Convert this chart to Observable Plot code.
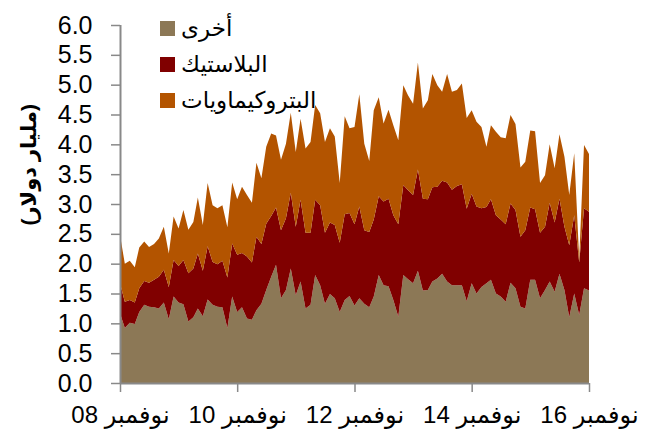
<!DOCTYPE html>
<html><head><meta charset="utf-8">
<script src="https://cdn.jsdelivr.net/npm/d3@7"></script>
<script src="https://cdn.jsdelivr.net/npm/@observablehq/plot@0.6"></script>
<style>
body{margin:0;background:#fff;font-family:"Liberation Sans",Arial,"DejaVu Sans",sans-serif;}
#wrap{position:relative;width:648px;height:430px;}
#legend{position:absolute;left:160px;top:10px;}
.row{display:flex;align-items:center;height:36px;font-size:23px;color:#000;}
.sw{width:15px;height:15px;margin-right:6px;flex:none;}
.row span{direction:rtl;}
svg g[aria-label="x-axis tick label"] text{direction:rtl;unicode-bidi:embed;}
</style></head>
<body>
<div id="wrap"><div id="chart"></div><div id="legend"></div></div>
<script>
const seriesNames = ["أخرى", "البلاستيك", "البتروكيماويات"];
const seriesColors = ["#8c7856", "#800000", "#b35400"];
const yTitle = "(مليار دولار)";
const yTicks = [0, 0.5, 1, 1.5, 2, 2.5, 3, 3.5, 4, 4.5, 5, 5.5, 6];
const xTickLabels = ["نوفمبر 08", "نوفمبر 10", "نوفمبر 12", "نوفمبر 14", "نوفمبر 16"];
const xTickDates = [Date.UTC(2008,10,1), Date.UTC(2010,10,1), Date.UTC(2012,10,1), Date.UTC(2014,10,1), Date.UTC(2016,10,1)];

// monthly values, Nov 2008 - Nov 2016 (billion USD)
const other = [1.17,0.92,1.01,0.99,1.19,1.31,1.28,1.27,1.25,1.35,1.07,1.45,1.35,1.32,1.03,1.10,1.25,1.12,1.40,1.31,1.28,1.27,0.92,1.45,
1.19,1.27,1.08,1.06,1.22,1.33,1.56,1.78,1.98,1.42,1.56,1.92,1.47,1.70,1.25,1.31,1.81,1.64,1.33,1.49,1.42,1.19,1.39,1.46,
1.30,1.42,1.33,1.27,1.45,1.81,1.64,1.62,1.39,1.11,1.81,1.74,1.67,1.88,1.55,1.56,1.70,1.75,1.83,1.70,1.64,1.64,1.64,1.37,
1.67,1.50,1.61,1.67,1.73,1.50,1.45,1.36,1.68,1.59,1.28,1.25,1.73,1.73,1.42,1.56,1.70,1.53,1.83,1.56,1.10,1.50,1.14,1.59,1.55];
const plastics = [0.50,0.44,0.38,0.36,0.40,0.40,0.40,0.46,0.53,0.55,0.54,0.61,0.61,0.74,0.81,0.82,0.92,0.76,0.89,0.72,0.71,0.78,0.85,0.89,
0.96,0.91,1.04,0.96,1.23,1.00,1.11,1.02,0.96,1.14,1.20,1.27,1.15,1.37,1.27,1.21,1.26,1.34,1.19,1.20,1.23,1.16,1.44,1.39,
1.36,1.54,1.23,1.26,1.29,1.32,1.40,1.47,1.42,1.55,1.51,1.49,1.48,1.70,1.54,1.52,1.58,1.54,1.56,1.66,1.60,1.66,1.69,1.55,
1.50,1.46,1.32,1.28,1.35,1.31,1.29,1.30,1.33,1.31,1.17,1.31,1.21,1.18,1.10,1.06,1.32,1.16,1.26,1.06,1.21,1.31,0.88,1.34,1.32];
const petro = [0.81,0.64,0.66,0.59,0.68,0.66,0.60,0.60,0.64,0.72,0.56,0.73,0.63,0.84,0.73,0.78,0.94,0.77,1.06,0.95,0.94,0.93,0.84,1.02,
0.93,1.11,1.03,1.00,1.24,1.10,1.29,1.38,1.21,1.18,1.25,1.34,1.25,1.36,1.41,1.52,1.59,1.54,1.52,1.58,1.48,1.00,1.64,1.42,
1.63,1.88,1.45,1.19,1.83,1.66,1.31,1.49,1.51,1.41,1.67,1.59,1.53,1.79,1.51,1.66,1.90,1.70,1.49,1.82,1.64,1.61,1.69,1.52,
1.40,1.42,1.36,1.01,1.24,1.40,1.38,1.44,1.48,1.44,1.16,1.15,1.29,1.31,0.83,0.86,0.98,0.91,1.08,1.17,0.84,1.04,0.06,1.06,0.97];

const start = new Date(Date.UTC(2008,10,1));
const end = new Date(Date.UTC(2016,10,1));
const months = d3.utcMonth.range(start, d3.utcMonth.offset(end, 1));
const seriesValues = [other, plastics, petro];
const data = [];
seriesNames.forEach((s, k) => seriesValues[k].forEach((v, i) => data.push({date: months[i], series: s, value: v})));
const xTicks = xTickDates.map(d => new Date(d));
const labelOf = new Map(xTicks.map((d, i) => [+d, xTickLabels[i]]));
const font = '"Liberation Sans", Arial, "DejaVu Sans", sans-serif';

const chart = Plot.plot({
  width: 648, height: 430,
  marginLeft: 120, marginRight: 59, marginTop: 25, marginBottom: 47,
  style: {fontFamily: font, fontSize: "25px", color: "#000", background: "#fff"},
  x: {type: "utc", domain: [start, end]},
  y: {domain: [0, 6]},
  color: {domain: seriesNames, range: seriesColors},
  marks: [
    Plot.areaY(data, {x: "date", y: "value", fill: "series", order: seriesNames}),
    Plot.ruleY([0], {stroke: "#898989", strokeWidth: 2}),
    Plot.ruleX([start], {stroke: "#898989", strokeWidth: 2}),
    Plot.axisY({ticks: yTicks, tickFormat: d3.format(".1f"), tickSize: 9, tickPadding: 19,
      stroke: "#898989", strokeWidth: 1.5, strokeOpacity: 1, fill: "#000", fontSize: 25, label: null}),
    Plot.axisX({ticks: xTicks, tickFormat: d => labelOf.get(+d), tickSize: 9, tickPadding: 13,
      stroke: "#898989", strokeWidth: 1.5, strokeOpacity: 1, fill: "#000", fontSize: 24, label: null}),
    Plot.text([yTitle], {frameAnchor: "left", rotate: -90, dx: -91, dy: 21, fontWeight: "bold", fontSize: 21, fill: "#000"})
  ]
});
document.getElementById("chart").appendChild(chart);

const legend = document.getElementById("legend");
seriesNames.forEach((s, k) => {
  const row = document.createElement("div");
  row.className = "row";
  const sw = document.createElement("div");
  sw.className = "sw";
  sw.style.background = seriesColors[k];
  const t = document.createElement("span");
  t.textContent = s;
  row.appendChild(sw); row.appendChild(t);
  legend.appendChild(row);
});
</script>
</body></html>
